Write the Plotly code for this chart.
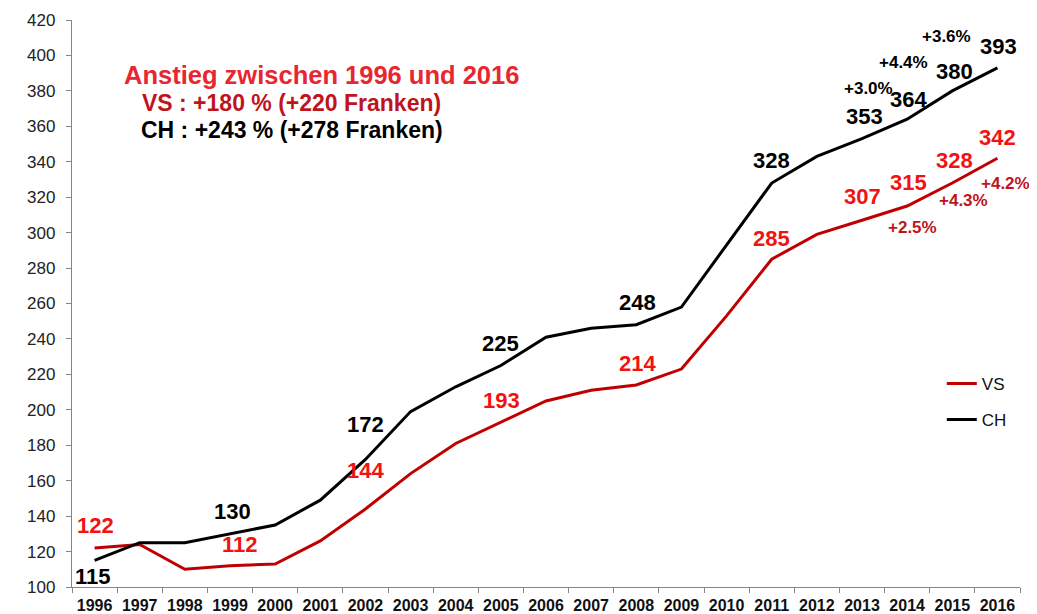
import plotly.graph_objects as go

years = [str(y) for y in range(1996, 2017)]
vs = [122, 124, 110, 112, 113, 126, 144, 164, 181, 193, 205, 211, 214, 223, 253, 285, 299, 307, 315, 328, 342]
ch = [115, 125, 125, 130, 135, 149, 172, 199, 213, 225, 241, 246, 248, 258, 293, 328, 343, 353, 364, 380, 393]
y_ticks = list(range(100, 421, 20))

# labelled points: (year, text, xshift, yshift)
ch_labels = [("1996", "115", -2, -16), ("1999", "130", 2, 22), ("2002", "172", 0, 35),
             ("2005", "225", 0, 22), ("2008", "248", 1, 22), ("2011", "328", 0, 23),
             ("2013", "353", 2, 22), ("2014", "364", 1, 20), ("2015", "380", 2, 19),
             ("2016", "393", 1, 21)]
vs_labels = [("1996", "122", 1, 23), ("1999", "112", 10, 21), ("2002", "144", 0, 39),
             ("2005", "193", 1, 22), ("2008", "214", 1, 22), ("2011", "285", 0, 21),
             ("2013", "307", 0, 24), ("2014", "315", 1, 24), ("2015", "328", 2, 23),
             ("2016", "342", 0, 21)]
ch_pct = [("2013", "+3.0%", 6, 50), ("2014", "+4.4%", -4, 57), ("2015", "+3.6%", -6, 54)]
vs_pct = [("2014", "+2.5%", 5, -21), ("2015", "+4.3%", 11, -17), ("2016", "+4.2%", 8, -25)]

RED_LINE = "#c00000"
RED_TXT = "#f21212"
DARK_RED_TXT = "#c0141c"
FONT = "Liberation Sans, Arial, sans-serif"

fig = go.Figure()
fig.add_trace(go.Scatter(x=years, y=vs, mode="lines", name="VS", legendgroup="vs",
                         line=dict(color=RED_LINE, width=3)))
fig.add_trace(go.Scatter(x=years, y=ch, mode="lines", name="CH", legendgroup="ch",
                         line=dict(color="#000000", width=3)))

def val(series, yr):
    return series[years.index(yr)]

anns = []
def add_labels(items, series, size, color):
    for yr, t, dx, dy in items:
        anns.append(dict(x=years.index(yr), y=val(series, yr), xref="x", yref="y",
                         text=f"<b>{t}</b>", xshift=dx, yshift=dy,
                         xanchor="center", yanchor="middle", showarrow=False,
                         font=dict(size=size, color=color, family=FONT)))

add_labels(ch_labels, ch, 22, "#000000")
add_labels(vs_labels, vs, 22, RED_TXT)
add_labels(ch_pct, ch, 17, "#000000")
add_labels(vs_pct, vs, 17, DARK_RED_TXT)

anns.append(dict(xref="paper", yref="paper", x=0.2637, y=0.903, showarrow=False,
                 xanchor="center", yanchor="middle",
                 text="<b>Anstieg zwischen 1996 und 2016</b>",
                 font=dict(size=25.5, color="#e8262f", family=FONT)))
anns.append(dict(xref="paper", yref="paper", x=0.232, y=0.854, showarrow=False,
                 xanchor="center", yanchor="middle",
                 text="<b>VS : +180 % (+220 Franken)</b>",
                 font=dict(size=23, color=DARK_RED_TXT, family=FONT)))
anns.append(dict(xref="paper", yref="paper", x=0.232, y=0.806, showarrow=False,
                 xanchor="center", yanchor="middle",
                 text="<b>CH : +243 % (+278 Franken)</b>",
                 font=dict(size=23, color="#000000", family=FONT)))

# page body has an 8px margin: shrink the figure and shift margins to compensate
fig.update_layout(
    width=1029, height=606,
    margin=dict(l=64, r=17, t=12, b=27),
    paper_bgcolor="white", plot_bgcolor="white",
    font=dict(family=FONT, color="#222222"),
    annotations=anns,
    showlegend=True,
    legend=dict(x=0.9175, y=0.39, xanchor="left", yanchor="top",
                font=dict(size=17, color="#111111", family=FONT),
                tracegroupgap=11, bgcolor="rgba(0,0,0,0)"),
    xaxis=dict(type="category", range=[-0.5, 20.5], showline=True, linecolor="#868686",
               linewidth=1.3, ticks="outside", tickson="boundaries", ticklen=5,
               tickcolor="#868686", showgrid=False, zeroline=False, automargin=False,
               ticklabelstandoff=4,
               tickfont=dict(size=16, color="#111111", family=FONT),
               tickprefix="<b>", ticksuffix="</b>"),
    yaxis=dict(range=[100, 420], tickvals=y_ticks, showline=True, linecolor="#868686",
               linewidth=1.3, ticks="outside", ticklen=5, tickcolor="#868686",
               showgrid=False, zeroline=False, automargin=False,
               ticklabelstandoff=7,
               tickfont=dict(size=17, color="#222222", family=FONT)),
)

fig.write_html("out.html")
